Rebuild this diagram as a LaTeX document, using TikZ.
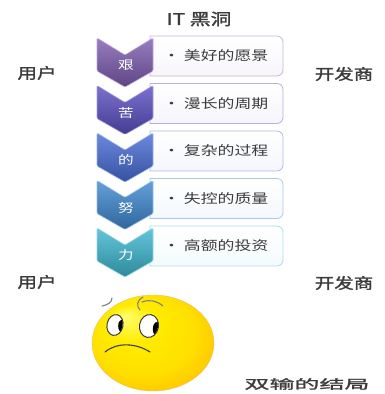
\documentclass[tikz,border=0pt]{standalone}
\usepackage{fontspec}
\newfontfamily\cjk[FakeStretch=1.3]{Noto Sans CJK SC}
\newfontfamily\cjkb[FakeStretch=1.3,FakeBold=1.6]{Noto Sans CJK SC}
\newfontfamily\cjkwide[FakeStretch=2.0,FakeBold=1.8]{Noto Sans CJK SC}
\definecolor{chA}{HTML}{7E5CB0}
\definecolor{chB}{HTML}{5A4EC2}
\definecolor{chC}{HTML}{476CD6}
\definecolor{chD}{HTML}{3E88D0}
\definecolor{chE}{HTML}{3DB7D0}
\definecolor{labelgray}{HTML}{3C3C3C}
\definecolor{faceedge}{HTML}{D89A10}
\pgfdeclareradialshading{facefill}{\pgfpoint{-12bp}{14bp}}{%
  color(0bp)=(yellow!55!white);
  color(10bp)=(yellow!85!orange);
  color(22bp)=(yellow!75!orange);
  color(30bp)=(orange!45!yellow);
  color(36bp)=(orange!70!yellow)}
\tikzset{
  chev/.style={draw=#1!55!white, line width=0.6pt, rounded corners=1.2pt,
    top color=#1!80!white, bottom color=#1!75!black},
  chevtext/.style={text=white, font=\cjk\fontsize{12}{12}\selectfont, inner sep=0pt},
  itembox/.style={draw=#1!45!white, line width=0.8pt,
    top color=white, bottom color=#1!6!white},
  itemtext/.style={anchor=west, text=labelgray, font=\cjk\fontsize{13}{13}\selectfont, inner sep=0pt},
  sidelabel/.style={text=labelgray, font=\cjkb\fontsize{15}{15}\selectfont, inner sep=0pt},
  eyewhite/.style={fill=white, draw=labelgray, line width=1pt},
  brow/.style={draw=gray, line width=1.1pt, line cap=round},
}
\begin{document}
\begin{tikzpicture}[x=1pt, y=-1pt]
\useasboundingbox (0,0) rectangle (384,394);

% title
\node[text=labelgray, font=\cjkb\fontsize{16}{16}\selectfont, inner sep=0pt] (title) at (199,19) {IT 黑洞};

% item boxes behind the chevrons
\foreach \t/\c/\txt [count=\i] in {36/chA/美好的愿景, 83.5/chB/漫长的周期, 131/chC/复杂的过程, 178.5/chD/失控的质量, 226/chE/高额的投资}{
  \path[itembox=\c] (150,\t) [rounded corners=6pt] -- (283,\t) -- (283,\t+40) [sharp corners] -- (150,\t+40) -- cycle;
  \node[itemtext] (item\i) at (163,\t+20) {\textbullet\ \txt};
}

% chevrons, bottom one first so upper ones overlap it
\foreach \t/\c/\ch [count=\i] in {226/chE/力, 178.5/chD/努, 131/chC/的, 83.5/chB/苦, 36/chA/艰}{
  \path[chev=\c] (97,\t+2) -- (125,\t+19) -- (153,\t+2) -- (153,\t+35) -- (125,\t+51) -- (97,\t+35) -- cycle;
  \node[chevtext] (step\i) at (126,\t+29) {\ch};
}

% side labels
\node[sidelabel] (userA) at (37,73) {用户};
\node[sidelabel] (devA) at (344,74) {开发商};
\node[sidelabel] (userB) at (37,282) {用户};
\node[sidelabel] (devB) at (344,283) {开发商};
\node[text=labelgray, font=\cjkwide\fontsize{12.5}{12.5}\selectfont, inner sep=0pt] (ending) at (307,384) {双输的结局};

% worried face
\path[shading=facefill, draw=faceedge!60!white, line width=0.4pt] (153,343) ellipse [x radius=61, y radius=48];
\begin{scope}
  \path[eyewhite, rotate around={-12:(115,325)}] (115,325) ellipse [x radius=8, y radius=10.5];
  \clip[rotate around={-12:(115,325)}] (115,325) ellipse [x radius=7.5, y radius=10];
  \fill[black] (122,326) ellipse [x radius=3.8, y radius=6.5];
\end{scope}
\begin{scope}
  \path[eyewhite, rotate around={-10:(149,326)}] (149,326) ellipse [x radius=9.5, y radius=11.5];
  \clip[rotate around={-10:(149,326)}] (149,326) ellipse [x radius=9, y radius=11];
  \fill[black] (157,329) ellipse [x radius=4.2, y radius=7];
\end{scope}
\draw[brow] (102,306) .. controls (108,305) and (112,302) .. (112,298);
\draw[brow] (143,297) .. controls (137,300) and (136,306) .. (140,310);
\draw[brow] (142,302) .. controls (150,299) and (157,301) .. (163,306);
\draw[draw=labelgray, line width=1.1pt, line cap=round] (105,352) .. controls (117,342) and (136,343) .. (150,352);
\end{tikzpicture}
\end{document}
